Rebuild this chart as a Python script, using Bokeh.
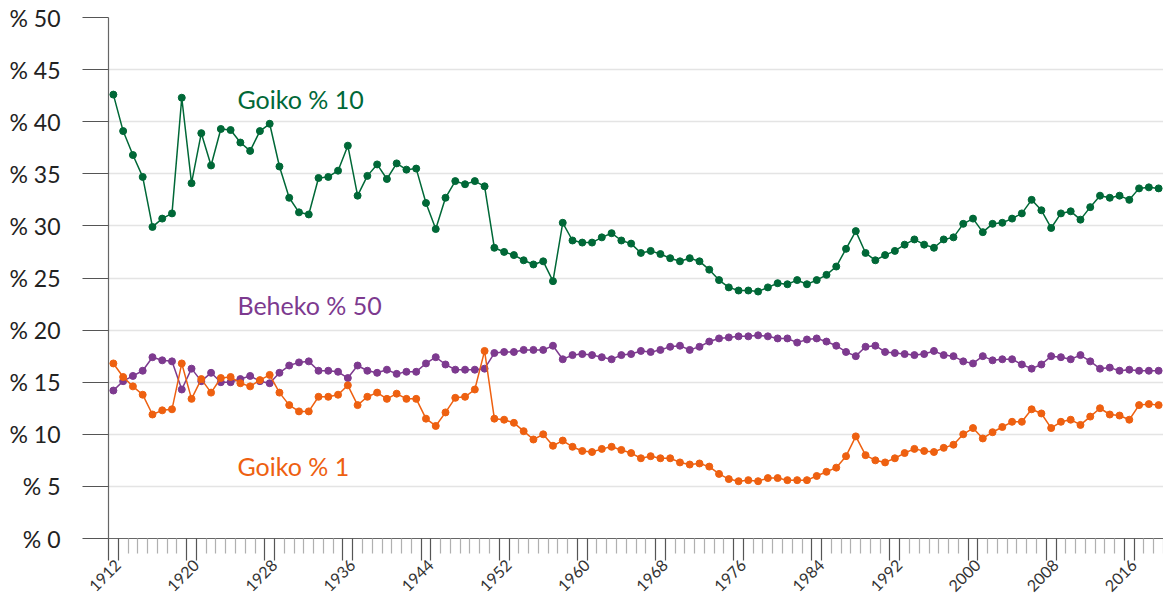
import math
from bokeh.plotting import figure
from bokeh.models import FixedTicker, Range1d
from bokeh.core.properties import value
from bokeh.embed import file_html
from bokeh.resources import INLINE

years = list(range(1912, 2020))

goiko10 = [
    42.6, 39.1, 36.8, 34.7, 29.9, 30.7, 31.2, 42.3,
    34.1, 38.9, 35.8, 39.3, 39.2, 38.0, 37.2, 39.1,
    39.8, 35.7, 32.7, 31.3, 31.1, 34.6, 34.7, 35.3,
    37.7, 32.9, 34.8, 35.9, 34.5, 36.0, 35.4, 35.5,
    32.2, 29.7, 32.7, 34.3, 34.0, 34.3, 33.8, 27.9,
    27.5, 27.2, 26.7, 26.3, 26.6, 24.7, 30.3, 28.6,
    28.4, 28.4, 28.9, 29.3, 28.6, 28.3, 27.4, 27.6,
    27.3, 26.9, 26.6, 26.9, 26.6, 25.8, 24.8, 24.1,
    23.8, 23.8, 23.7, 24.1, 24.5, 24.4, 24.8, 24.4,
    24.8, 25.3, 26.1, 27.8, 29.5, 27.4, 26.7, 27.2,
    27.6, 28.2, 28.7, 28.2, 27.9, 28.7, 28.9, 30.2,
    30.7, 29.4, 30.2, 30.3, 30.7, 31.2, 32.5, 31.5,
    29.8, 31.2, 31.4, 30.6, 31.8, 32.9, 32.7, 32.9,
    32.5, 33.6, 33.7, 33.6,
]

beheko50 = [
    14.2, 15.1, 15.6, 16.1, 17.4, 17.1, 17.0, 14.3,
    16.3, 15.1, 15.9, 15.0, 15.0, 15.3, 15.6, 15.1,
    14.9, 15.9, 16.6, 16.9, 17.0, 16.1, 16.1, 16.0,
    15.4, 16.6, 16.1, 15.9, 16.2, 15.8, 16.0, 16.0,
    16.8, 17.4, 16.7, 16.2, 16.2, 16.2, 16.3, 17.8,
    17.9, 17.9, 18.1, 18.1, 18.1, 18.5, 17.2, 17.6,
    17.7, 17.6, 17.4, 17.2, 17.6, 17.7, 18.0, 17.9,
    18.1, 18.4, 18.5, 18.1, 18.4, 18.9, 19.2, 19.3,
    19.4, 19.4, 19.5, 19.4, 19.2, 19.2, 18.8, 19.1,
    19.2, 18.9, 18.5, 17.9, 17.5, 18.4, 18.5, 17.9,
    17.8, 17.7, 17.6, 17.7, 18.0, 17.6, 17.5, 17.0,
    16.8, 17.5, 17.1, 17.2, 17.2, 16.7, 16.3, 16.7,
    17.5, 17.4, 17.2, 17.6, 17.0, 16.3, 16.4, 16.1,
    16.2, 16.1, 16.1, 16.1,
]

goiko1 = [
    16.8, 15.5, 14.6, 13.8, 11.9, 12.3, 12.4, 16.8,
    13.4, 15.3, 14.0, 15.4, 15.5, 14.9, 14.6, 15.2,
    15.7, 14.0, 12.8, 12.2, 12.2, 13.6, 13.6, 13.8,
    14.7, 12.8, 13.6, 14.0, 13.4, 13.9, 13.4, 13.4,
    11.5, 10.8, 12.1, 13.5, 13.6, 14.3, 18.0, 11.5,
    11.4, 11.1, 10.3, 9.5, 10.0, 8.9, 9.4, 8.8,
    8.4, 8.3, 8.6, 8.8, 8.5, 8.2, 7.7, 7.9,
    7.7, 7.7, 7.3, 7.1, 7.2, 6.9, 6.2, 5.7,
    5.5, 5.6, 5.5, 5.8, 5.8, 5.6, 5.6, 5.6,
    6.0, 6.4, 6.8, 7.9, 9.8, 8.0, 7.5, 7.3,
    7.7, 8.2, 8.6, 8.4, 8.3, 8.7, 9.0, 10.0,
    10.6, 9.6, 10.2, 10.7, 11.2, 11.2, 12.4, 12.0,
    10.6, 11.2, 11.4, 10.9, 11.7, 12.5, 11.9, 11.8,
    11.4, 12.8, 12.9, 12.8,
]

x_tick_labels = [1912, 1920, 1928, 1936, 1944, 1952, 1960, 1968,
                 1976, 1984, 1992, 2000, 2008, 2016]
y_ticks = [0, 5, 10, 15, 20, 25, 30, 35, 40, 45, 50]
y_tick_labels = ["% 0", "% 5", "% 10", "% 15", "% 20", "% 25",
                 "% 30", "% 35", "% 40", "% 45", "% 50"]

series_names = ["Goiko % 10", "Beheko % 50", "Goiko % 1"]
label_x = [1924.7, 1924.7, 1924.7]
label_y = [42.2, 22.4, 7.0]

GREEN = "#006837"
PURPLE = "#7d3a8f"
ORANGE = "#ee6010"
colors = [GREEN, PURPLE, ORANGE]
FONT = "Lato"

p = figure(width=1163, height=599, output_backend="svg", toolbar_location=None,
           x_range=Range1d(1911.5, 2019.5), y_range=Range1d(0, 50),
           min_border_left=108, min_border_right=0,
           min_border_top=17, min_border_bottom=61)
p.outline_line_color = None
p.background_fill_color = "white"
p.border_fill_color = "white"

# x axis: ticks at year-band edges, long ticks around labelled years
major_x = []
overrides_x = {}
for yr in x_tick_labels:
    major_x += [yr - 0.5, yr + 0.5]
    overrides_x[yr - 0.5] = ""
    overrides_x[yr + 0.5] = str(yr)
edges = [yr - 0.5 for yr in years] + [years[-1] + 0.5]
minor_x = [e for e in edges if e not in major_x]
p.xaxis.ticker = FixedTicker(ticks=major_x, minor_ticks=minor_x)
p.xaxis.major_label_overrides = overrides_x
p.xaxis.major_label_orientation = math.pi / 4
p.xaxis.axis_line_color = "#666666"
p.xaxis.axis_line_width = 1.2
p.xaxis.major_tick_line_color = "#555555"
p.xaxis.major_tick_line_width = 1.2
p.xaxis.major_tick_in = 0
p.xaxis.major_tick_out = 22
p.xaxis.minor_tick_line_color = "#b0b0b0"
p.xaxis.minor_tick_line_width = 1.2
p.xaxis.minor_tick_in = 0
p.xaxis.minor_tick_out = 15
p.xaxis.major_label_text_font = FONT
p.xaxis.major_label_text_font_size = "16px"
p.xaxis.major_label_text_color = "#333333"
p.xaxis.major_label_standoff = 2

p.yaxis.ticker = FixedTicker(ticks=y_ticks)
p.yaxis.major_label_overrides = dict(zip(y_ticks, y_tick_labels))
p.yaxis.axis_line_color = "#666666"
p.yaxis.axis_line_width = 1.2
p.yaxis.major_tick_line_color = "#555555"
p.yaxis.major_tick_line_width = 1.2
p.yaxis.major_tick_in = 0
p.yaxis.major_tick_out = 26
p.yaxis.minor_tick_line_color = None
p.yaxis.major_label_text_font = FONT
p.yaxis.major_label_text_font_size = "23px"
p.yaxis.major_label_text_color = "#222222"
p.yaxis.major_label_standoff = 22

p.xgrid.visible = False
p.ygrid.ticker = FixedTicker(ticks=y_ticks)
p.ygrid.grid_line_color = "#e4e4e4"
p.ygrid.grid_line_width = 1.5

for vals, col in zip([goiko10, beheko50, goiko1], colors):
    p.line(years, vals, line_color=col, line_width=1.5)
    p.scatter(years, vals, size=7, fill_color=col, line_color=col)

p.text(x=label_x, y=label_y, text=series_names, text_color=colors,
       text_font=value(FONT), text_font_size="25px",
       text_baseline="middle", text_align="left")

open("out.html", "w").write(file_html(p, INLINE))
